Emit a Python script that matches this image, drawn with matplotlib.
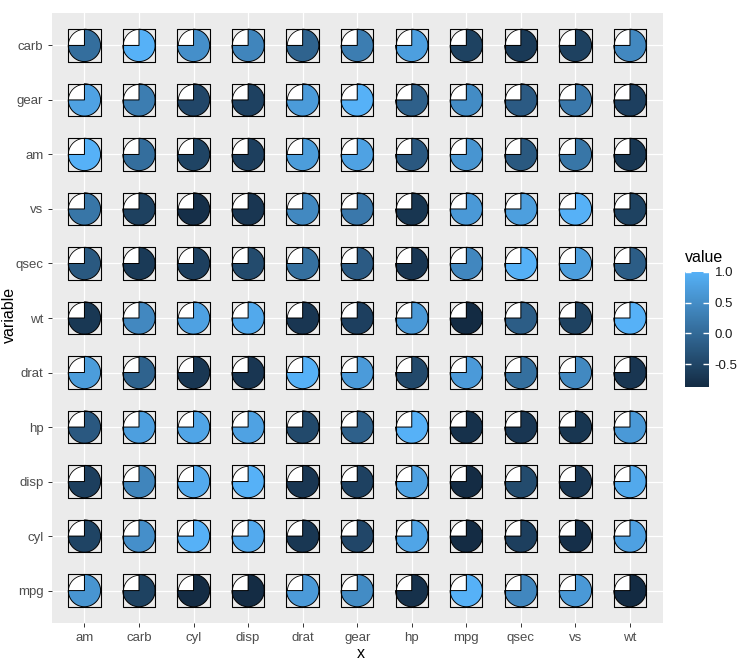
import numpy as np
import matplotlib
matplotlib.use("Agg")
import matplotlib.pyplot as plt
from matplotlib.path import Path
from matplotlib.colors import LinearSegmentedColormap, Normalize
from matplotlib.cm import ScalarMappable

plt.rcParams['font.family'] = ['Liberation Sans', 'DejaVu Sans']

# variables in data order (y axis, bottom to top)
variables = ["mpg", "cyl", "disp", "hp", "drat", "wt", "qsec", "vs", "am", "gear", "carb"]
# x axis categories (alphabetical)
x_cats = ["am", "carb", "cyl", "disp", "drat", "gear", "hp", "mpg", "qsec", "vs", "wt"]

# correlation values, rows/cols in `variables` order
corr_mpg  = [1.00, -0.85, -0.85, -0.78, 0.68, -0.87, 0.42, 0.66, 0.60, 0.48, -0.55]
corr_cyl  = [-0.85, 1.00, 0.90, 0.83, -0.70, 0.78, -0.59, -0.81, -0.52, -0.49, 0.53]
corr_disp = [-0.85, 0.90, 1.00, 0.79, -0.71, 0.89, -0.43, -0.71, -0.59, -0.56, 0.39]
corr_hp   = [-0.78, 0.83, 0.79, 1.00, -0.45, 0.66, -0.71, -0.72, -0.24, -0.13, 0.75]
corr_drat = [0.68, -0.70, -0.71, -0.45, 1.00, -0.71, 0.09, 0.44, 0.71, 0.70, -0.09]
corr_wt   = [-0.87, 0.78, 0.89, 0.66, -0.71, 1.00, -0.17, -0.55, -0.69, -0.58, 0.43]
corr_qsec = [0.42, -0.59, -0.43, -0.71, 0.09, -0.17, 1.00, 0.74, -0.23, -0.21, -0.66]
corr_vs   = [0.66, -0.81, -0.71, -0.72, 0.44, -0.55, 0.74, 1.00, 0.17, 0.21, -0.57]
corr_am   = [0.60, -0.52, -0.59, -0.24, 0.71, -0.69, -0.23, 0.17, 1.00, 0.79, 0.06]
corr_gear = [0.48, -0.49, -0.56, -0.13, 0.70, -0.58, -0.21, 0.21, 0.79, 1.00, 0.27]
corr_carb = [-0.55, 0.53, 0.39, 0.75, -0.09, 0.43, -0.66, -0.57, 0.06, 0.27, 1.00]

corr = np.array([corr_mpg, corr_cyl, corr_disp, corr_hp, corr_drat, corr_wt,
                 corr_qsec, corr_vs, corr_am, corr_gear, corr_carb])

cbar_ticks = [-0.5, 0.0, 0.5, 1.0]

# build long-form data
xs, ys, vals = [], [], []
for yi, yv in enumerate(variables):
    for xi, xv in enumerate(x_cats):
        xs.append(xi)
        ys.append(yi)
        vals.append(corr[variables.index(yv), variables.index(xv)])
xs = np.array(xs); ys = np.array(ys); vals = np.array(vals)

cmap = LinearSegmentedColormap.from_list("gg", ["#132B43", "#56B1F7"])
norm = Normalize(vmin=vals.min(), vmax=vals.max())

W, H = 740, 667
fig = plt.figure(figsize=(W / 100, H / 100), dpi=100)
L, R, T, B = 51.7, 662.7, 12.7, 623.3
ax = fig.add_axes([L / W, 1 - B / H, (R - L) / W, (B - T) / H])
ax.set_facecolor("#EBEBEB")
n = len(x_cats)
ax.set_xlim(-0.6, n - 1 + 0.6)
ax.set_ylim(-0.6, len(variables) - 1 + 0.6)
ax.set_xticks(range(n))
ax.set_xticklabels(x_cats)
ax.set_yticks(range(len(variables)))
ax.set_yticklabels(variables)
for s in ax.spines.values():
    s.set_visible(False)
ax.grid(True, color="white", linewidth=0.9)
ax.set_axisbelow(True)
ax.tick_params(axis="both", colors="#333333", labelcolor="#4D4D4D",
               length=3, width=0.7, labelsize=9.5, pad=3)


def wedge_marker(a0, a1, npts=200):
    # bounding points at radius 1 all round so both wedges share the same scale
    th = np.linspace(np.radians(a0), np.radians(a1), npts)
    verts = np.vstack([[0, 0], np.column_stack([np.cos(th), np.sin(th)]), [0, 0]])
    codes = [Path.MOVETO] + [Path.LINETO] * (len(verts) - 2) + [Path.CLOSEPOLY]
    return Path(verts, codes)


fill_path = wedge_marker(180, 450)   # 3/4 filled part
blank_path = wedge_marker(90, 180)   # white top-left quarter
sq = np.array([[-1, -1], [1, -1], [1, 1], [-1, 1], [-1, -1]])
square_path = Path(sq, [Path.MOVETO, Path.LINETO, Path.LINETO, Path.LINETO, Path.CLOSEPOLY])

msize = (32.3 * 0.72) ** 2
ax.scatter(xs, ys, s=msize, marker=blank_path, facecolor="white", edgecolor="black",
           linewidth=0.6, zorder=3)
ax.scatter(xs, ys, s=msize, marker=fill_path, c=vals, cmap=cmap, norm=norm,
           edgecolor="black", linewidth=0.7, zorder=4)
ax.scatter(xs, ys, s=msize, marker=square_path, facecolor="none", edgecolor="black",
           linewidth=0.8, zorder=5)

ax.set_xlabel("x", fontsize=11.5, color="black")
ax.set_ylabel("variable", fontsize=11.5, color="black")
ax.xaxis.set_label_coords((361 - L) / (R - L), (B - 653) / (B - T))
ax.yaxis.set_label_coords((9 - L) / (R - L), (B - 315) / (B - T))
ax.xaxis.label.set_va("center")
ax.yaxis.label.set_va("center")

# colorbar
cb_l, cb_r, cb_t, cb_b = 685, 709, 272, 387
cax = fig.add_axes([cb_l / W, 1 - cb_b / H, (cb_r - cb_l) / W, (cb_b - cb_t) / H])
sm = ScalarMappable(norm=norm, cmap=cmap)
cb = fig.colorbar(sm, cax=cax)
cb.outline.set_visible(False)
cb.set_ticks(cbar_ticks)
cb.set_ticklabels([f"{t:.1f}" for t in cbar_ticks])
cax.tick_params(axis="y", direction="in", color="white", width=1.0, length=4.5,
                left=True, right=True, labelright=True, labelleft=False,
                labelsize=9.5, labelcolor="#1A1A1A", pad=4)
fig.text(685 / W, 1 - 258 / H, "value", fontsize=11.5, color="black",
         ha="left", va="center")

fig.savefig("out.png", dpi=100)
